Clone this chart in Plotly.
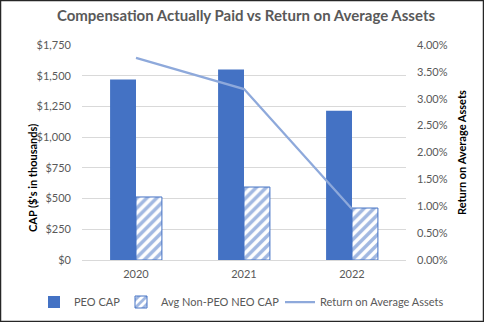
import plotly.graph_objects as go

years = ["2020", "2021", "2022"]
peo_cap = [1470, 1550, 1215]
non_peo_cap = [513, 594, 423]
roaa = [0.0376, 0.0318, 0.0095]

W, H = 484, 322
ML, MR, MT, MB = 82, 78, 45, 62
PW, PH = W - ML - MR, H - MT - MB

def px(x):
    return (x - ML) / PW

def py(y):
    return 1 - (y - MT) / PH

FONT = "Lato"
GRAY = "#595959"
BLUE = "#4472C4"

fig = go.Figure()
fig.add_trace(go.Bar(
    x=years, y=peo_cap, name="PEO CAP",
    marker=dict(color=BLUE, line=dict(width=0)),
    yaxis="y", legend="legend",
))
fig.add_trace(go.Bar(
    x=years, y=non_peo_cap, name="Avg Non-PEO NEO CAP",
    marker=dict(color="white", line=dict(color=BLUE, width=1),
                pattern=dict(shape="/", fgcolor=BLUE, bgcolor="white", size=7, solidity=0.5)),
    yaxis="y", legend="legend2",
))
fig.add_trace(go.Scatter(
    x=years, y=roaa, name="Return on Average Assets",
    mode="lines", line=dict(color="#8EA9DB", width=2.25),
    yaxis="y2", legend="legend3",
))

def leg(xleft):
    return dict(orientation="h", xref="container", yref="container",
                x=xleft / W, xanchor="left", y=1 - 302 / H, yanchor="middle",
                font=dict(size=11, color=GRAY, family=FONT), itemwidth=30,
                bgcolor="rgba(0,0,0,0)", borderwidth=0)

fig.update_layout(
    width=W, height=H,
    margin=dict(l=ML, r=MR, t=MT, b=MB, autoexpand=False),
    paper_bgcolor="white", plot_bgcolor="white",
    font=dict(family=FONT, size=11, color=GRAY),
    barmode="group", bargap=0.52, bargroupgap=0,
    showlegend=True,
    legend=leg(34), legend2=leg(121), legend3=leg(280),
    xaxis=dict(showgrid=False, showline=True, linecolor="#D9D9D9", linewidth=1,
               ticks="", tickfont=dict(size=11, color=GRAY), ticklabelstandoff=4,
               automargin=False),
    yaxis=dict(range=[0, 1750], dtick=250, tickformat="$,.0f", showgrid=True,
               gridcolor="#D9D9D9", gridwidth=1, zeroline=False, showline=False,
               ticks="", tickfont=dict(size=11, color=GRAY), ticklabelstandoff=10,
               automargin=False),
    yaxis2=dict(range=[0, 0.04], dtick=0.005, tickformat=".2%", overlaying="y",
                side="right", showgrid=False, zeroline=False, showline=False,
                ticks="", tickfont=dict(size=11, color=GRAY), ticklabelstandoff=10,
                automargin=False),
    title=dict(text="<b>Compensation Actually Paid vs Return on Average Assets</b>",
               xref="container", yref="container",
               x=246 / W, xanchor="center", y=1 - 16 / H, yanchor="middle",
               font=dict(family=FONT, size=15, color=GRAY)),
)

fig.add_annotation(text="<b>CAP ($'s in thousands)</b>", textangle=-90,
                   x=px(32), y=py(178), xref="paper", yref="paper",
                   xanchor="center", yanchor="middle",
                   showarrow=False, font=dict(family=FONT, size=11, color="black"))
fig.add_annotation(text="<b>Return on Average Assets</b>", textangle=-90,
                   x=px(461), y=py(153), xref="paper", yref="paper",
                   xanchor="center", yanchor="middle",
                   showarrow=False, font=dict(family=FONT, size=11, color="black"))

fig.add_shape(type="rect", xref="paper", yref="paper",
              x0=px(0.5), x1=px(W - 0.5), y0=py(H - 0.5), y1=py(0.5),
              line=dict(color="#262626", width=1.5), fillcolor="rgba(0,0,0,0)", layer="above")

fig.write_html("out.html")
